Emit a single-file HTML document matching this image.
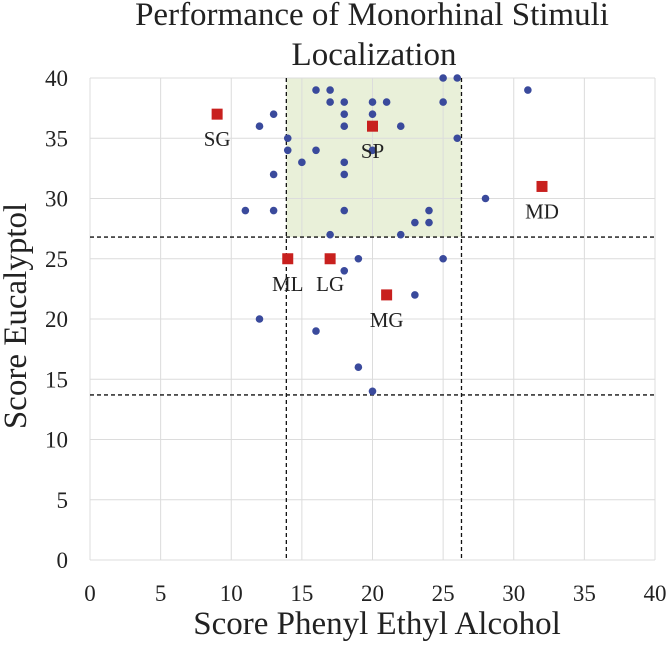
<!DOCTYPE html>
<html><head><meta charset="utf-8"><style>
body{margin:0;background:#fff;}
svg text{font-family:"Liberation Serif",serif;fill:#222;}
</style></head><body>
<svg id="chart" width="670" height="643"></svg>
<script>
const xTicks=[0,5,10,15,20,25,30,35,40];
const yTicks=[0,5,10,15,20,25,30,35,40];
const ptsX=[16,17,17,18,20,21,13,18,20,12,18,22,14,14,16,15,18,13,18,11,13,18,17,25,26,25,31,26,20,28,24,23,24,22,19,25,18,23,12,16,19,20];
const ptsY=[39,39,38,38,38,38,37,37,37,36,36,36,35,34,34,33,33,32,32,29,29,29,27,40,40,38,39,35,34,30,29,28,28,27,25,25,24,22,20,19,16,14];
const grpLabels=["SG","SP","MD","ML","LG","MG"];
const grpX=[9,20,32,14,17,21];
const grpY=[37,36,31,25,25,22];
const cutX=[13.9,26.3];
const cutY=[26.8,13.7];
const X0=90,X1=655,Y0=560,Y1=78;
const sx=v=>X0+(X1-X0)*v/40, sy=v=>Y0-(Y0-Y1)*v/40;
const svg=document.getElementById('chart');
const NS='http://www.w3.org/2000/svg';
function mk(t,a,txt){const e=document.createElementNS(NS,t);for(const k in a)e.setAttribute(k,a[k]);if(txt!==undefined)e.textContent=txt;svg.appendChild(e);return e;}
let r=mk('rect',{x:sx(cutX[0]),y:sy(40),width:sx(cutX[1])-sx(cutX[0]),height:sy(cutY[0])-sy(40),fill:'#e9f0d9'});


xTicks.forEach(v=>{
 let g=mk('line',{x1:sx(v),x2:sx(v),y1:sy(0),y2:sy(40),stroke:'#dcdcdc','stroke-width':1});
 
 
 let t=mk('text',{x:sx(v),y:sy(0)+41,'text-anchor':'middle','font-size':23},v);
 
 
});
yTicks.forEach(v=>{
 let g=mk('line',{x1:sx(0),x2:sx(40),y1:sy(v),y2:sy(v),stroke:'#dcdcdc','stroke-width':1});
 
 
 let t=mk('text',{x:68,y:sy(v)+8,'text-anchor':'end','font-size':23},v);
 
 
});
cutX.forEach(v=>{
 let l=mk('line',{x1:sx(v),x2:sx(v),y1:sy(40),y2:sy(0),stroke:'#111','stroke-width':1.3,'stroke-dasharray':'4,3'});
 
 
});
cutY.forEach(v=>{
 let l=mk('line',{x1:sx(0),x2:sx(40),y1:sy(v),y2:sy(v),stroke:'#111','stroke-width':1.3,'stroke-dasharray':'4,3'});
 
 
});
ptsX.forEach((x,i)=>{
 let c=mk('circle',{cx:sx(x),cy:sy(ptsY[i]),r:3.8,fill:'#3a4a9c'});
 
 
});
grpX.forEach((x,i)=>{
 let s=mk('rect',{x:sx(x)-5.5,y:sy(grpY[i])-5.5,width:11,height:11,fill:'#c8201e'});
 
 
 let t=mk('text',{x:sx(x),y:sy(grpY[i])+32,'text-anchor':'middle','font-size':21},grpLabels[i]);
 
 
});
let t1=mk('text',{x:372,y:25,'text-anchor':'middle','font-size':33},'Performance of Monorhinal Stimuli');


let t2=mk('text',{x:374,y:65,'text-anchor':'middle','font-size':33},'Localization');


let xl=mk('text',{x:377,y:634,'text-anchor':'middle','font-size':33},'Score Phenyl Ethyl Alcohol');


let yl=mk('text',{x:0,y:0,'text-anchor':'middle','font-size':33,transform:'translate(26,316) rotate(-90)'},'Score Eucalyptol');


</script>
</body></html>
